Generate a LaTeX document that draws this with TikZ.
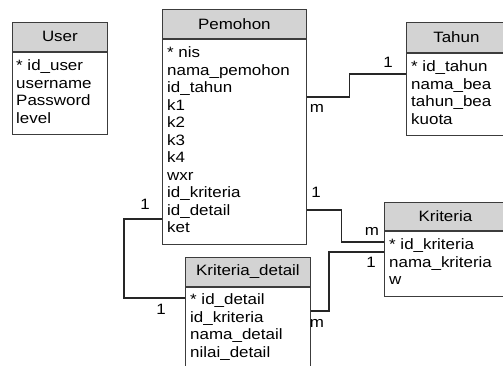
\documentclass[tikz,border=0pt]{standalone}
\usepackage{fontspec}
\setmainfont{Liberation Sans}[FakeStretch=1.13]
\usepackage{tikz}
\usetikzlibrary{calc}
\definecolor{boxline}{RGB}{60,60,60}
\definecolor{headfill}{RGB}{211,211,211}
\newcommand{\entfont}{\fontsize{15}{17.5}\selectfont}

\begin{document}
\begin{tikzpicture}[x=1pt, y=-1pt,
head/.style={draw=boxline, fill=headfill, line width=.8pt, anchor=north west, inner sep=0pt, minimum height=29pt, font=\entfont},
body/.style={draw=boxline, fill=white, line width=.8pt, anchor=north west, inner sep=0pt},
attr/.style={anchor=north west, align=left, inner sep=0pt, font=\entfont},
rel/.style={line width=1.1pt, draw=black!85},
card/.style={font=\entfont}]
\useasboundingbox (0,0) rectangle (503,365);
\clip (0,0) rectangle (503,365);

\node [head, minimum width=95pt] (user) at (12,22) {User};
\node [body, minimum width=95pt, minimum height=82pt] (userb) at (user.south west) {};
\node [attr] (userl) at ([xshift=4pt, yshift=-8pt]userb.north west) {* id\_user\\username\\Password\\level};

\node [head, minimum width=144pt] (pemohon) at (162,9) {Pemohon};
\node [body, minimum width=144pt, minimum height=205pt] (pemohonb) at (pemohon.south west) {};
\node [attr] (pemohonl) at ([xshift=5pt, yshift=-8pt]pemohonb.north west) {* nis\\nama\_pemohon\\id\_tahun\\k1\\k2\\k3\\k4\\wxr\\id\_kriteria\\id\_detail\\ket};

\node [head, minimum width=100pt, minimum height=30pt] (tahun) at (406,22) {Tahun};
\node [body, minimum width=100pt, minimum height=82pt] (tahunb) at (tahun.south west) {};
\node [attr] (tahunl) at ([xshift=5pt, yshift=-8pt]tahunb.north west) {* id\_tahun\\nama\_bea\\tahun\_bea\\kuota};

\node [head, minimum width=122pt, minimum height=28pt] (kriteria) at (384,202) {Kriteria};
\node [body, minimum width=122pt, minimum height=65pt] (kriteriab) at (kriteria.south west) {};
\node [attr] (kriterial) at ([xshift=5pt, yshift=-8pt]kriteriab.north west) {* id\_kriteria\\nama\_kriteria\\w};

\node [head, minimum width=125pt] (detail) at (185,257) {Kriteria\_detail};
\node [body, minimum width=125pt, minimum height=95pt] (detailb) at (detail.south west) {};
\node [attr] (detaill) at ([xshift=5pt, yshift=-7pt]detailb.north west) {* id\_detail\\id\_kriteria\\nama\_detail\\nilai\_detail};

\draw [rel] (pemohonb.east |- 0,97) -- ++(43,0) |- (tahunb.west |- 0,74);
\draw [rel] (pemohonb.east |- 0,210) -- ++(35,0) |- (kriteriab.west |- 0,242);
\draw [rel] (kriteriab.west |- 0,252) -- ++(-55,0) |- (detailb.east |- 0,311);
\draw [rel] (pemohonb.west |- 0,219) -- ++(-38,0) |- (detailb.west |- 0,298);

\node [card] at (388,62) {1};
\node [card] at (317,108) {m};
\node [card] at (316,192) {1};
\node [card] at (372,231) {m};
\node [card] at (371,262) {1};
\node [card] at (317,323) {m};
\node [card] at (145,204) {1};
\node [card] at (161,309) {1};
\end{tikzpicture}
\end{document}
